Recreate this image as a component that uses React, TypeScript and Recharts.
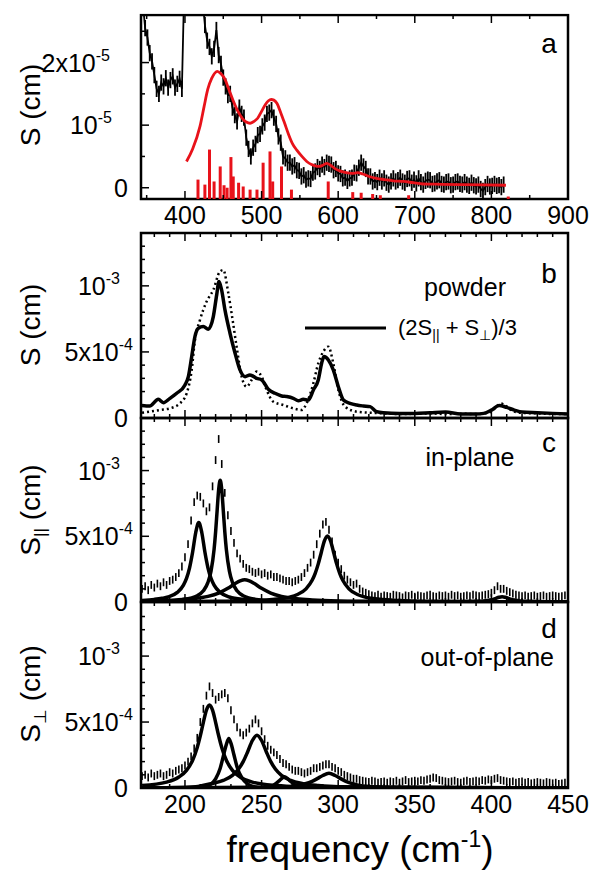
import React from 'react';
import { LineChart, Line, XAxis, YAxis, ErrorBar, ReferenceArea, ReferenceLine } from 'recharts';

const W = 602;
const H = 876;
const PLOT_LEFT = 141;
const PLOT_RIGHT = 568;
const FONT = '"Liberation Sans", Arial, Helvetica, sans-serif';
const RED = '#e8121a';

// ---------- panel a : S in units of 1e-5 cm, frequency 340-900 ----------
const A_FREQ_TICKS = [350, 400, 450, 500, 550, 600, 650, 700, 750, 800, 850, 900];
const A_FREQ_LABELS = [400, 500, 600, 700, 800, 900];
const A_S_TICKS = [0, 0.5, 1, 1.5, 2, 2.5];
const A_S_LABELS = [
  { v: 0, base: '0' },
  { v: 1, base: '10', exp: '-5' },
  { v: 2, base: '2x10', exp: '-5' },
];
const A_MEASURED: [number, number][] = [
  [345, 2.95], [348, 2.55], [351, 2.4], [354, 2.15], [357, 2.02], [360, 1.8], [363, 1.58], [366, 1.5],
  [369, 1.68], [372, 1.62], [375, 1.75], [378, 1.6], [381, 1.72], [384, 1.78], [387, 1.6], [390, 1.66],
  [393, 1.74], [396, 1.58], [399, 3.2], [405, 3.4], [411, 3.5], [417, 3.3], [423, 3.0], [426, 2.6],
  [429, 2.35], [432, 2.25], [435, 2.1], [438, 2.22], [441, 2.52], [444, 2.12], [447, 1.98], [450, 1.76],
  [453, 1.62], [456, 1.48], [459, 1.5], [462, 1.28], [465, 1.16], [468, 1.06], [471, 1.28], [474, 1.18],
  [477, 1.12], [480, 0.8], [483, 0.62], [486, 0.5], [489, 0.64], [492, 0.7], [495, 0.84], [498, 0.86],
  [501, 0.98], [504, 1.04], [507, 1.18], [510, 1.2], [513, 1.24], [516, 1.12], [519, 1.02], [522, 0.82],
  [525, 0.72], [528, 0.5], [531, 0.47], [534, 0.4], [537, 0.4], [540, 0.34], [543, 0.36], [546, 0.28],
  [549, 0.27], [552, 0.18], [555, 0.2], [558, 0.13], [561, 0.15], [564, 0.14], [567, 0.24], [570, 0.26],
  [573, 0.33], [576, 0.3], [579, 0.37], [582, 0.33], [585, 0.4], [588, 0.38], [591, 0.37], [594, 0.28],
  [597, 0.3], [600, 0.23], [603, 0.22], [606, 0.15], [609, 0.16], [612, 0.11], [615, 0.15], [618, 0.16],
  [621, 0.24], [624, 0.23], [627, 0.32], [630, 0.4], [633, 0.34], [636, 0.3], [639, 0.18], [642, 0.18],
  [645, 0.1], [648, 0.12], [651, 0.09], [654, 0.16], [657, 0.1], [660, 0.15], [663, 0.08], [666, 0.05],
  [669, 0.1], [672, 0.15], [675, 0.1], [678, 0.12], [681, 0.16], [684, 0.1], [687, 0.08], [690, 0.14],
  [693, 0.15], [696, 0.08], [699, 0.13], [702, 0.07], [705, 0.15], [708, 0.09], [711, 0.05], [714, 0.11],
  [717, 0.13], [720, 0.12], [723, 0.06], [726, 0.07], [729, 0.1], [732, 0.12], [735, 0.06], [738, 0.05],
  [741, 0.09], [744, 0.1], [747, 0.04], [750, 0.05], [753, 0.09], [756, 0.1], [759, 0.06], [762, 0.05],
  [765, 0.09], [768, 0.05], [771, 0.03], [774, 0.08], [777, 0.04], [780, 0.02], [783, 0.05], [786, -0.02],
  [789, -0.05], [792, 0.01], [795, 0.06], [798, 0.02], [801, 0.03], [804, 0.06], [807, 0.03], [810, 0.04],
  [813, 0.01], [816, 0.05],
];
const A_CALC: [number, number][] = [
  [402, 0.42], [410, 0.62], [419.6, 0.98], [425, 1.3], [429.7, 1.57], [435, 1.75], [442.2, 1.86], [447, 1.82],
  [452.3, 1.73], [457, 1.58], [462.3, 1.41], [468, 1.25], [474.8, 1.11], [480, 1.05], [484.9, 1.03], [490, 1.06],
  [494.9, 1.11], [500, 1.22], [505, 1.33], [509, 1.39], [512.6, 1.41], [516, 1.4], [520, 1.35], [525, 1.2],
  [530.1, 1.03], [535, 0.86], [540.1, 0.71], [546, 0.6], [552.7, 0.5], [559, 0.42], [565.2, 0.37], [570, 0.35],
  [575.3, 0.34], [580, 0.36], [585.3, 0.39], [590, 0.36], [595.3, 0.31], [602, 0.27], [610.4, 0.24], [618, 0.23],
  [625.5, 0.24], [632, 0.22], [640.5, 0.18], [650, 0.15], [660.6, 0.13], [672, 0.11], [685.7, 0.1], [698, 0.08],
  [710.8, 0.06], [735, 0.055], [761.1, 0.05], [790, 0.045], [819, 0.04],
];
const A_MODES: [number, number][] = [
  [417, 0.13], [426, 0.05], [432, 0.61], [438, 0.1], [446, 0.34], [451, 0.04], [455, 0.0], [460, 0.49],
  [463, 0.18], [470, 0.08], [476, 0.02], [485, -0.03], [494, -0.03], [502, 0.4], [511, 0.58], [514.5, 0.1],
  [526, 0.34], [539, -0.03], [587, 0.1], [619, -0.07], [630, -0.08], [645, -0.1], [655, -0.12], [692, -0.12],
  [822, -0.14],
];
const A_ERR = 0.13;

// ---------- panels b-d : S in units of 1e-4 cm, frequency 170-450 ----------
const F_TICKS = [180, 190, 200, 210, 220, 230, 240, 250, 260, 270, 280, 290, 300, 310, 320, 330, 340, 350, 360, 370, 380, 390, 400, 410, 420, 430, 440, 450];
const F_MAJOR = [200, 250, 300, 350, 400, 450];
const S_TICKS = [0, 1, 2, 3, 4, 5, 6, 7, 8, 9, 10, 11, 12, 13];
const S_MAJOR = [0, 5, 10];
const S_LABELS = [
  { v: 0, base: '0' },
  { v: 5, base: '5x10', exp: '-4' },
  { v: 10, base: '10', exp: '-3' },
];

// b: powder
const B_POWDER: [number, number][] = [
  [172, 0.4], [177.2, 0.48], [183.8, 0.61], [190.2, 0.73], [196.7, 1.11], [201.1, 1.87], [204.4, 3.64], [206.5, 5.9],
  [209.8, 7.42], [214.1, 8.81], [218.5, 9.7], [222.8, 11.08], [225, 11.2], [228.3, 9.44], [231.1, 7.42], [233.7, 5.4],
  [237, 3.13], [240.2, 2.37], [243.5, 2.88], [246.8, 3.51], [250.1, 3.13], [253.3, 2.12], [257.7, 1.23], [264.2, 0.98],
  [270.7, 0.73], [276.1, 0.61], [279.4, 1.11], [283.8, 2.63], [287, 4.14], [290.3, 5.02], [293.6, 5.4], [296.8, 4.14],
  [300.1, 2.12], [304.5, 0.86], [312.1, 0.48], [320.8, 0.4], [329.5, 0.35], [340, 0.3], [350, 0.32], [360, 0.35],
  [370, 0.3], [380, 0.32], [390, 0.3], [398, 0.4], [403, 0.8], [406, 1.1], [409, 0.95], [413, 0.6], [418, 0.4],
  [430, 0.35], [440, 0.3], [450, 0.3],
];
const B_AVERAGE: [number, number][] = [
  [172, 0.95], [177, 0.91], [182.6, 1.41], [185.9, 1.16], [190.2, 1.49], [194.6, 1.87], [200, 2.5], [202.2, 3.13],
  [204.4, 4.65], [206.5, 6.16], [208.7, 6.79], [212, 6.92], [215.2, 6.72], [218.5, 7.67], [220.7, 9.32], [222.2, 10.33],
  [223.9, 9.7], [226.1, 8.18], [229.4, 6.41], [232.7, 4.9], [235.9, 3.64], [239.2, 3.13], [242.4, 3.26], [246.8, 3.0],
  [250.1, 2.88], [254.4, 2.17], [258.8, 1.87], [263.1, 1.67], [266.4, 1.62], [270.7, 1.49], [274, 1.31], [277.2, 1.41],
  [280.5, 1.36], [283.8, 2.12], [287, 2.88], [289.2, 4.14], [290.7, 4.65], [293.6, 4.39], [296.8, 3.64], [300.1, 2.37],
  [303.4, 1.36], [307.7, 1.11], [312.1, 0.98], [316.4, 0.91], [320.8, 0.86], [325.1, 0.48], [329.5, 0.4], [340, 0.35],
  [350, 0.35], [360, 0.4], [370, 0.45], [380, 0.3], [390, 0.3], [395, 0.35], [400, 0.6], [405, 0.95], [410, 0.8],
  [415, 0.6], [420, 0.45], [430, 0.4], [440, 0.35], [450, 0.3],
];

// c: in-plane
const C_MEASURED: [number, number][] = [
  [172, 1.0], [174, 1.2], [176, 0.9], [178, 1.3], [180, 1.1], [182, 1.4], [184, 1.2], [186, 1.5], [188, 1.3], [190, 1.6],
  [192, 1.7], [194, 1.9], [196, 2.2], [198, 2.7], [200, 3.4], [202, 4.4], [204, 6.2], [206, 7.6], [208, 8.1], [210, 8.0],
  [212, 7.5], [214, 6.9], [216, 7.2], [218, 8.8], [220, 10.8], [222, 12.4], [224, 10.5], [226, 8.3], [228, 6.6], [230, 5.4],
  [232, 4.5], [234, 3.7], [236, 3.3], [238, 2.9], [240, 2.6], [242, 2.5], [244, 2.3], [246, 2.2], [248, 2.3], [250, 2.1],
  [252, 2.2], [254, 2.0], [256, 2.1], [258, 1.9], [260, 1.9], [262, 1.8], [264, 1.7], [266, 1.6], [268, 1.6], [270, 1.5],
  [272, 1.6], [274, 1.7], [276, 1.9], [278, 2.2], [280, 2.6], [282, 3.0], [284, 3.6], [286, 4.4], [288, 5.2], [290, 5.9],
  [292, 6.1], [294, 5.5], [296, 4.6], [298, 3.6], [300, 3.0], [302, 2.5], [304, 2.0], [306, 1.7], [308, 1.5], [310, 1.3],
  [312, 1.4], [314, 1.0], [316, 0.8], [318, 0.7], [320, 0.6], [322, 0.5], [324, 0.45], [326, 0.55], [328, 0.4], [330, 0.5],
  [332, 0.45], [334, 0.4], [336, 0.55], [338, 0.5], [340, 0.45], [342, 0.35], [344, 0.5], [346, 0.45], [348, 0.55], [350, 0.4],
  [352, 0.5], [354, 0.45], [356, 0.4], [358, 0.5], [360, 0.55], [362, 0.45], [364, 0.4], [366, 0.5], [368, 0.45], [370, 0.5],
  [372, 0.4], [374, 0.55], [376, 0.45], [378, 0.5], [380, 0.4], [382, 0.45], [384, 0.5], [386, 0.45], [388, 0.55], [390, 0.5],
  [392, 0.45], [394, 0.5], [396, 0.55], [398, 0.6], [400, 0.7], [402, 0.9], [404, 1.2], [406, 1.0], [408, 1.0], [410, 0.85],
  [412, 0.75], [414, 0.65], [416, 0.55], [418, 0.5], [420, 0.45], [422, 0.5], [424, 0.4], [426, 0.45], [428, 0.5], [430, 0.4],
  [432, 0.45], [434, 0.5], [436, 0.4], [438, 0.45], [440, 0.5], [442, 0.45], [444, 0.4], [446, 0.45], [448, 0.5], [450, 0.4],
];
const C_FIT_209: [number, number][] = [
  [172, 0.12], [180, 0.2], [185, 0.28], [189, 0.38], [195, 0.73], [199, 1.29], [201, 1.8], [203, 2.6], [205, 3.8], [207, 5.27],
  [209, 6.05], [211, 5.27], [213, 3.8], [215, 2.6], [217, 1.8], [219, 1.29], [223, 0.73], [229, 0.38], [239, 0.18], [249, 0.1],
  [265, 0.05], [290, 0.02], [450, 0.0],
];
const C_FIT_223: [number, number][] = [
  [172, 0.05], [190, 0.1], [198, 0.18], [208, 0.48], [212, 0.85], [215, 1.49], [217, 2.35], [219, 4.0], [220, 5.34], [221, 6.98],
  [222, 8.56], [223, 9.26], [224, 8.56], [225, 6.98], [226, 5.34], [227, 4.0], [229, 2.35], [231, 1.49], [234, 0.85], [238, 0.48],
  [248, 0.18], [263, 0.07], [290, 0.03], [450, 0.0],
];
const C_FIT_239: [number, number][] = [
  [172, 0.07], [185, 0.11], [195, 0.16], [205, 0.25], [215, 0.43], [222, 0.68], [228, 1.04], [233, 1.42], [236, 1.6], [239, 1.69],
  [242, 1.6], [245, 1.42], [250, 1.04], [256, 0.68], [263, 0.43], [273, 0.25], [283, 0.16], [300, 0.08], [320, 0.05], [350, 0.02],
  [450, 0.0],
];
const C_FIT_293: [number, number][] = [
  [172, 0.0], [220, 0.05], [248, 0.12], [263, 0.26], [273, 0.55], [279, 1.0], [283, 1.65], [285, 2.18], [287, 2.9], [289, 3.79],
  [291, 4.65], [293, 5.03], [295, 4.65], [297, 3.79], [299, 2.9], [301, 2.18], [303, 1.65], [307, 1.0], [313, 0.55], [323, 0.26],
  [338, 0.12], [363, 0.05], [450, 0.0],
];
const C_FIT_407: [number, number][] = [
  [172, 0.0], [380, 0.02], [390, 0.05], [395, 0.08], [399, 0.15], [402, 0.24], [405, 0.36], [407, 0.4], [409, 0.36], [412, 0.24],
  [415, 0.15], [419, 0.08], [425, 0.05], [435, 0.02], [450, 0.0],
];

// d: out-of-plane
const D_MEASURED: [number, number][] = [
  [172, 0.9], [174, 1.0], [176, 0.8], [178, 1.1], [180, 0.9], [182, 1.0], [184, 1.1], [186, 0.9], [188, 1.0], [190, 1.2],
  [192, 1.1], [194, 1.3], [196, 1.4], [198, 1.5], [200, 1.7], [202, 2.0], [204, 2.4], [206, 3.0], [208, 3.8], [210, 5.0],
  [212, 6.0], [214, 7.0], [216, 7.7], [218, 7.2], [220, 6.7], [222, 6.9], [224, 7.1], [226, 7.2], [228, 6.8], [230, 5.9],
  [232, 5.2], [234, 4.6], [236, 4.2], [238, 4.0], [240, 4.2], [242, 4.5], [244, 4.9], [246, 5.2], [248, 4.9], [250, 4.3],
  [252, 3.7], [254, 3.2], [256, 2.9], [258, 2.7], [260, 2.5], [262, 2.2], [264, 1.9], [266, 1.8], [268, 1.6], [270, 1.4],
  [272, 1.3], [274, 1.3], [276, 1.2], [278, 1.1], [280, 1.2], [282, 1.3], [284, 1.5], [286, 1.5], [288, 1.6], [290, 1.7],
  [292, 1.8], [294, 1.8], [296, 1.6], [298, 1.5], [300, 1.3], [302, 1.2], [304, 1.0], [306, 0.9], [308, 0.8], [310, 0.7],
  [312, 0.7], [314, 0.6], [316, 0.55], [318, 0.5], [320, 0.45], [322, 0.55], [324, 0.5], [326, 0.4], [328, 0.45], [330, 0.5],
  [332, 0.4], [334, 0.5], [336, 0.45], [338, 0.55], [340, 0.4], [342, 0.5], [344, 0.6], [346, 0.45], [348, 0.5], [350, 0.55],
  [352, 0.5], [354, 0.6], [356, 0.55], [358, 0.65], [360, 0.7], [362, 0.8], [364, 0.75], [366, 0.6], [368, 0.55], [370, 0.5],
  [372, 0.45], [374, 0.5], [376, 0.55], [378, 0.45], [380, 0.4], [382, 0.5], [384, 0.55], [386, 0.45], [388, 0.5], [390, 0.55],
  [392, 0.5], [394, 0.6], [396, 0.55], [398, 0.65], [400, 0.6], [402, 0.7], [404, 0.75], [406, 0.6], [408, 0.55], [410, 0.5],
  [412, 0.45], [414, 0.5], [416, 0.4], [418, 0.45], [420, 0.5], [422, 0.4], [424, 0.45], [426, 0.35], [428, 0.4], [430, 0.45],
  [432, 0.4], [434, 0.35], [436, 0.45], [438, 0.4], [440, 0.35], [442, 0.4], [444, 0.3], [446, 0.35], [448, 0.4], [450, 0.35],
];
const D_FIT_216: [number, number][] = [
  [172, 0.19], [188, 0.45], [196, 0.83], [201, 1.34], [205, 2.1], [208, 3.07], [210, 3.96], [212, 4.98], [214, 5.9], [216, 6.29],
  [218, 5.9], [220, 4.98], [222, 3.96], [224, 3.07], [227, 2.1], [231, 1.34], [236, 0.83], [244, 0.45], [260, 0.19], [276, 0.1],
  [306, 0.05], [450, 0.0],
];
const D_FIT_229: [number, number][] = [
  [172, 0.0], [212, 0.0], [216, 0.2], [220, 0.7], [223, 1.5], [225, 2.4], [227, 3.3], [228.6, 3.76], [230, 3.4], [232, 2.5],
  [234, 1.6], [237, 0.8], [241, 0.3], [246, 0.08], [250, 0.0], [450, 0.0],
];
const D_FIT_247: [number, number][] = [
  [172, 0.0], [207, 0.1], [217, 0.33], [225, 0.57], [231, 0.96], [235, 1.44], [238, 2.0], [241, 2.77], [244, 3.6], [247, 4.0],
  [250, 3.6], [253, 2.77], [256, 2.0], [259, 1.44], [263, 0.96], [269, 0.57], [277, 0.33], [287, 0.19], [300, 0.1], [450, 0.0],
];
const D_FIT_265: [number, number][] = [
  [172, 0.0], [252, 0.0], [256, 0.1], [259, 0.3], [262, 0.6], [265, 0.86], [268, 0.6], [271, 0.3], [274, 0.1], [278, 0.0],
  [450, 0.0],
];
const D_FIT_294: [number, number][] = [
  [172, 0.0], [265, 0.08], [272, 0.15], [278, 0.3], [283, 0.5], [287, 0.75], [290, 0.95], [294, 1.11], [298, 0.95], [301, 0.75],
  [305, 0.5], [310, 0.3], [316, 0.15], [325, 0.08], [335, 0.0], [450, 0.0],
];
const CD_ERR = 0.3;

// ---------- layout ----------
type YLabel = { v: number; base: string; exp?: string };
type PanelCfg = {
  top: number;
  bottom: number;
  xDomain: [number, number];
  yDomain: [number, number];
  xTicks: number[];
  xMajor: number[];
  xLabels: number[];
  yTicks: number[];
  yMajor: number[];
  yLabels: YLabel[];
  labelGap: Record<number, number>;
};

const PANEL_A: PanelCfg = {
  top: 15, bottom: 199, xDomain: [342.6, 900], yDomain: [-0.18, 2.76],
  xTicks: A_FREQ_TICKS, xMajor: A_FREQ_LABELS, xLabels: A_FREQ_LABELS,
  yTicks: A_S_TICKS, yMajor: [0, 1, 2], yLabels: A_S_LABELS, labelGap: { 0: 13, 1: 29, 2: 31 },
};
const CD_GAP = { 0: 13, 5: 8, 10: 21 };
const PANEL_B: PanelCfg = {
  top: 233, bottom: 418, xDomain: [171.3, 450], yDomain: [0, 14.0],
  xTicks: F_TICKS, xMajor: F_MAJOR, xLabels: [],
  yTicks: S_TICKS, yMajor: S_MAJOR, yLabels: S_LABELS, labelGap: CD_GAP,
};
const PANEL_C: PanelCfg = { ...PANEL_B, top: 418, bottom: 602 };
const PANEL_D: PanelCfg = { ...PANEL_B, top: 602, bottom: 788, yDomain: [0, 14.1], xLabels: F_MAJOR };

const toRows = (pts: [number, number][], err?: number) =>
  pts.map(([f, v]) => (err === undefined ? { f, v } : { f, v, e: err }));

function XTick(props: any) {
  const { x, y, payload, cfg } = props;
  const v = payload.value;
  const plotH = cfg.bottom - cfg.top;
  const len = cfg.xMajor.includes(v) ? 8 : 4;
  return (
    <g>
      <line x1={x} y1={y} x2={x} y2={y - len} stroke="#000" strokeWidth={1.5} />
      <line x1={x} y1={y - plotH} x2={x} y2={y - plotH + len} stroke="#000" strokeWidth={1.5} />
      {cfg.xLabels.includes(v) && (
        <text x={x} y={y + 25} textAnchor="middle" fontSize={25} fontFamily={FONT} fill="#000">
          {v}
        </text>
      )}
    </g>
  );
}

function YTick(props: any) {
  const { x, y, payload, cfg } = props;
  const v = payload.value;
  const len = cfg.yMajor.includes(v) ? 8 : 4;
  const lab: YLabel | undefined = cfg.yLabels.find((l: YLabel) => l.v === v);
  return (
    <g>
      <line x1={x} y1={y} x2={x + len} y2={y} stroke="#000" strokeWidth={1.5} />
      {lab && (
        <text x={x - cfg.labelGap[v]} y={y + 9} textAnchor="end" fontSize={25} fontFamily={FONT} fill="#000">
          {lab.base}
          {lab.exp && (
            <tspan dy={-11} fontSize={16}>
              {lab.exp}
            </tspan>
          )}
        </text>
      )}
    </g>
  );
}

function Panel({ cfg, children }: { cfg: PanelCfg; children: React.ReactNode }) {
  return (
    <div style={{ position: 'absolute', left: 0, top: 0 }}>
      <LineChart
        width={W}
        height={H}
        margin={{ top: cfg.top, bottom: H - cfg.bottom - 30, left: 0, right: W - PLOT_RIGHT }}
      >
        <XAxis
          dataKey="f"
          type="number"
          domain={cfg.xDomain}
          allowDataOverflow
          ticks={cfg.xTicks}
          interval={0}
          tickSize={0}
          tickMargin={0}
          height={30}
          axisLine={false}
          tick={(t: any) => <XTick {...t} cfg={cfg} />}
        />
        <YAxis
          type="number"
          domain={cfg.yDomain}
          allowDataOverflow
          ticks={cfg.yTicks}
          interval={0}
          tickSize={0}
          tickMargin={0}
          width={PLOT_LEFT}
          axisLine={false}
          tick={(t: any) => <YTick {...t} cfg={cfg} />}
        />
        {children}
        <ReferenceArea
          x1={cfg.xDomain[0]}
          x2={cfg.xDomain[1]}
          y1={cfg.yDomain[0]}
          y2={cfg.yDomain[1]}
          fill="none"
          fillOpacity={0}
          stroke="#000"
          strokeWidth={2.5}
          ifOverflow="visible"
        />
      </LineChart>
    </div>
  );
}

const fitLine = (pts: [number, number][], key: string) => (
  <Line
    key={key}
    data={toRows(pts)}
    dataKey="v"
    type="monotone"
    stroke="#000"
    strokeWidth={3.5}
    dot={false}
    activeDot={false}
    isAnimationActive={false}
  />
);

const measuredBars = (pts: [number, number][], err: number, key: string) => (
  <Line
    key={key}
    data={toRows(pts, err)}
    dataKey="v"
    stroke="none"
    dot={false}
    activeDot={false}
    isAnimationActive={false}
  >
    <ErrorBar dataKey="e" width={0} stroke="#000" strokeWidth={1.6} direction="y" />
  </Line>
);

export default function App() {
  const txt = { fontFamily: FONT, fill: '#000' };
  return (
    <div style={{ position: 'absolute', left: 0, top: 0, width: W, height: H, background: '#fff' }}>
      <Panel cfg={PANEL_A}>
        {A_MODES.map(([f, h], i) => (
          <ReferenceLine
            key={`m${i}`}
            segment={[{ x: f, y: PANEL_A.yDomain[0] }, { x: f, y: h }]}
            stroke={RED}
            strokeWidth={3}
            ifOverflow="visible"
          />
        ))}
        <Line
          data={toRows(A_MEASURED, A_ERR)}
          dataKey="v"
          stroke="#000"
          strokeWidth={1.8}
          dot={false}
          activeDot={false}
          isAnimationActive={false}
        >
          <ErrorBar dataKey="e" width={0} stroke="#000" strokeWidth={1.8} direction="y" />
        </Line>
        <Line
          data={toRows(A_CALC)}
          dataKey="v"
          type="monotone"
          stroke={RED}
          strokeWidth={2.8}
          dot={false}
          activeDot={false}
          isAnimationActive={false}
        />
      </Panel>

      <Panel cfg={PANEL_B}>
        <Line
          data={toRows(B_POWDER)}
          dataKey="v"
          type="monotone"
          stroke="#000"
          strokeWidth={2.5}
          strokeDasharray="2 3"
          dot={false}
          activeDot={false}
          isAnimationActive={false}
        />
        <Line
          data={toRows(B_AVERAGE)}
          dataKey="v"
          type="monotone"
          stroke="#000"
          strokeWidth={3.5}
          dot={false}
          activeDot={false}
          isAnimationActive={false}
        />
      </Panel>

      <Panel cfg={PANEL_C}>
        {measuredBars(C_MEASURED, CD_ERR, 'cm')}
        {fitLine(C_FIT_209, 'c1')}
        {fitLine(C_FIT_223, 'c2')}
        {fitLine(C_FIT_239, 'c3')}
        {fitLine(C_FIT_293, 'c4')}
        {fitLine(C_FIT_407, 'c5')}
      </Panel>

      <Panel cfg={PANEL_D}>
        {measuredBars(D_MEASURED, CD_ERR, 'dm')}
        {fitLine(D_FIT_216, 'd1')}
        {fitLine(D_FIT_229, 'd2')}
        {fitLine(D_FIT_247, 'd3')}
        {fitLine(D_FIT_265, 'd4')}
        {fitLine(D_FIT_294, 'd5')}
      </Panel>

      <svg width={W} height={H} style={{ position: 'absolute', left: 0, top: 0, pointerEvents: 'none' }}>
        {/* hide the off-scale part of the measured curve above panel a */}
        <rect x={PLOT_LEFT - 2} y={0} width={PLOT_RIGHT - PLOT_LEFT + 4} height={13.6} fill="#fff" />

        {/* axis titles */}
        <text transform="translate(40,105) rotate(-90)" textAnchor="middle" fontSize={28} {...txt}>
          S (cm)
        </text>
        <text transform="translate(40,325) rotate(-90)" textAnchor="middle" fontSize={28} {...txt}>
          S (cm)
        </text>
        <text transform="translate(40,510) rotate(-90)" textAnchor="middle" fontSize={28} {...txt}>
          S<tspan fontSize={17} dy={6}>||</tspan>
          <tspan dy={-6}> (cm)</tspan>
        </text>
        <text transform="translate(40,694) rotate(-90)" textAnchor="middle" fontSize={28} {...txt}>
          S<tspan fontSize={17} dy={6}>⊥</tspan>
          <tspan dy={-6}> (cm)</tspan>
        </text>
        <text x={360} y={862} textAnchor="middle" fontSize={37} {...txt}>
          frequency (cm<tspan fontSize={23} dy={-15}>-1</tspan>
          <tspan dy={15}>)</tspan>
        </text>

        {/* panel letters and captions */}
        <text x={549} y={53} textAnchor="middle" fontSize={28} {...txt}>a</text>
        <text x={549} y={283} textAnchor="middle" fontSize={28} {...txt}>b</text>
        <text x={549} y={452} textAnchor="middle" fontSize={28} {...txt}>c</text>
        <text x={549} y={638} textAnchor="middle" fontSize={28} {...txt}>d</text>
        <text x={465} y={296} textAnchor="middle" fontSize={25} {...txt}>powder</text>
        <text x={470} y={466} textAnchor="middle" fontSize={25} {...txt}>in-plane</text>
        <text x={554} y={666} textAnchor="end" fontSize={25} {...txt}>out-of-plane</text>

        {/* legend of panel b */}
        <line x1={305} y1={328} x2={386} y2={328} stroke="#000" strokeWidth={3} />
        <text x={398} y={335} fontSize={22} {...txt}>
          (2S<tspan fontSize={14} dy={5}>||</tspan>
          <tspan dy={-5}> + S</tspan>
          <tspan fontSize={14} dy={5}>⊥</tspan>
          <tspan dy={-5}>)/3</tspan>
        </text>
      </svg>
    </div>
  );
}
